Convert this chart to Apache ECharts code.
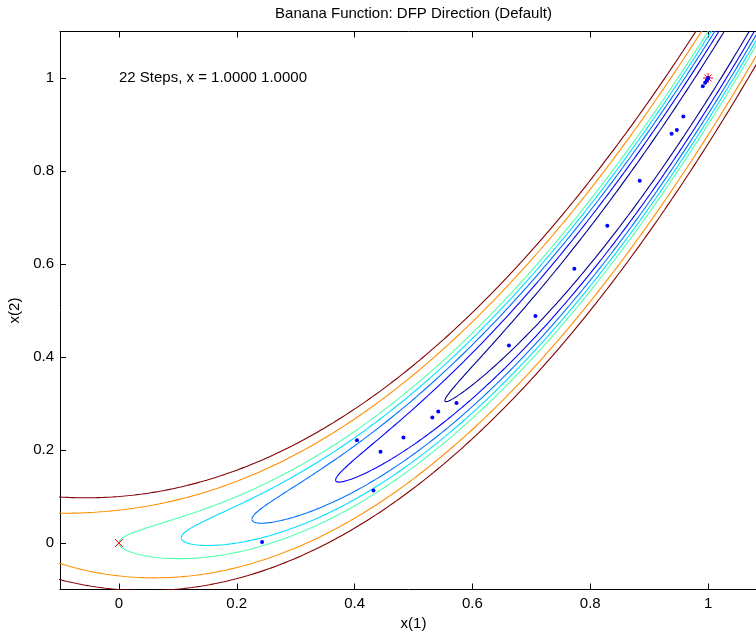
<!DOCTYPE html>
<html><head><meta charset="utf-8">
<script src="https://cdn.jsdelivr.net/npm/echarts@6/dist/echarts.min.js"></script>
<style>html,body{margin:0;padding:0;background:#fff}#c{width:756px;height:632px}</style>
</head><body><div id="c"></div>
<script>
// Contour levels of the banana (Rosenbrock) function f = 100(x2-x1^2)^2 + (1-x1)^2
const levels = [0.2, 0.4, 0.6, 0.8, 1.0, 1.5, 2.0];
const levelColors = ['#000090', '#0000ff', '#0070ff', '#00dfff', '#50ffaf', '#ff8f00', '#800000'];
// Iterates of DFP search
const stepX = [0.243, 0.432, 0.404, 0.444, 0.483, 0.532, 0.542, 0.573, 0.662, 0.707, 0.773, 0.829, 0.884, 0.938, 0.947, 0.958, 0.991, 0.995, 0.998, 1.000];
const stepY = [0.002, 0.113, 0.221, 0.196, 0.227, 0.270, 0.283, 0.301, 0.425, 0.488, 0.590, 0.682, 0.779, 0.880, 0.888, 0.917, 0.982, 0.990, 0.995, 1.000];
const startPoint = [0, 0];
const solutionPoint = [1, 1];
const xTicks = [0, 0.2, 0.4, 0.6, 0.8, 1];
const yTicks = [0, 0.2, 0.4, 0.6, 0.8, 1];
const titleText = 'Banana Function: DFP Direction (Default)';
const noteText = '22 Steps, x = 1.0000 1.0000';

function contourCurve(c) {
  // exact level set: (1-x)^2 = c cos^2 t, 100 (y-x^2)^2 = c sin^2 t
  const pts = [];
  const r = Math.sqrt(c);
  const n = 1440;
  for (let i = 0; i <= n; i++) {
    const t = 2 * Math.PI * i / n;
    const x = 1 - r * Math.cos(t);
    const y = x * x + r / 10 * Math.sin(t);
    pts.push([x, y]);
  }
  return pts;
}

const FONT = 'Liberation Sans, Arial, Helvetica, sans-serif';
const chart = echarts.init(document.getElementById('c'));
const series = [];
levels.forEach((c, i) => {
  series.push({
    type: 'line', data: contourCurve(c), showSymbol: false, symbol: 'none',
    lineStyle: { color: levelColors[i], width: 1.1 }, clip: true, silent: true, z: 2
  });
});
series.push({
  type: 'scatter', data: [solutionPoint], symbol: 'path://M5,0L5,10M0,5L10,5M1.5,1.5L8.5,8.5M8.5,1.5L1.5,8.5',
  symbolSize: 10, itemStyle: { color: 'none', borderColor: '#ff0000', borderWidth: 1, opacity: 1 }, z: 3
});
series.push({
  type: 'scatter', data: [startPoint], symbol: 'path://M0,0L10,10M10,0L0,10',
  symbolSize: 8, itemStyle: { color: 'none', borderColor: '#ff0000', borderWidth: 1, opacity: 1 }, z: 3
});
series.push({
  type: 'scatter', data: stepX.map((x, i) => [x, stepY[i]]), symbol: 'circle', symbolSize: 4,
  itemStyle: { color: '#0000ff', opacity: 1 }, z: 4
});
series.push({
  type: 'scatter', data: [[0, 1]], symbolSize: 0, z: 5, itemStyle: { opacity: 1 },
  label: { show: true, position: 'right', distance: 0, formatter: noteText, color: '#000', fontSize: 15, fontFamily: FONT }
});

const axisCommon = {
  type: 'value', min: -0.1, max: 1.1,
  axisLine: { show: true, onZero: false, lineStyle: { color: '#000', width: 1 } },
  splitLine: { show: false }
};
chart.setOption({
  animation: false,
  backgroundColor: '#fff',
  grid: { left: 60, top: 31.5, width: 707, height: 558, outerBoundsMode: 'none', containLabel: false },
  graphic: [{ type: 'text', x: 413.5, y: 14, style: { text: titleText, textAlign: 'center', textVerticalAlign: 'middle', fill: '#000', font: '15px ' + FONT } }],
  xAxis: [
    Object.assign({}, axisCommon, {
      position: 'bottom',
      axisTick: { show: true, inside: true, length: 6, customValues: xTicks, lineStyle: { color: '#000' } },
      axisLabel: { show: true, customValues: xTicks, color: '#000', fontSize: 15, fontFamily: FONT, margin: 7 },
      name: 'x(1)', nameLocation: 'middle', nameGap: 26, nameTextStyle: { color: '#000', fontSize: 15, fontFamily: FONT }
    }),
    Object.assign({}, axisCommon, {
      position: 'top',
      axisTick: { show: true, inside: true, length: 6, customValues: xTicks, lineStyle: { color: '#000' } },
      axisLabel: { show: false }
    })
  ],
  yAxis: [
    Object.assign({}, axisCommon, {
      position: 'left',
      axisTick: { show: true, inside: true, length: 6, customValues: yTicks, lineStyle: { color: '#000' } },
      axisLabel: { show: true, customValues: yTicks, color: '#000', fontSize: 15, fontFamily: FONT, margin: 6 },
      name: 'x(2)', nameLocation: 'middle', nameGap: 33, nameRotate: 90, nameTextStyle: { color: '#000', fontSize: 15, fontFamily: FONT }
    }),
    Object.assign({}, axisCommon, {
      position: 'right',
      axisTick: { show: true, inside: true, length: 6, customValues: yTicks, lineStyle: { color: '#000' } },
      axisLabel: { show: false }
    })
  ],
  series: series
});
</script></body></html>
